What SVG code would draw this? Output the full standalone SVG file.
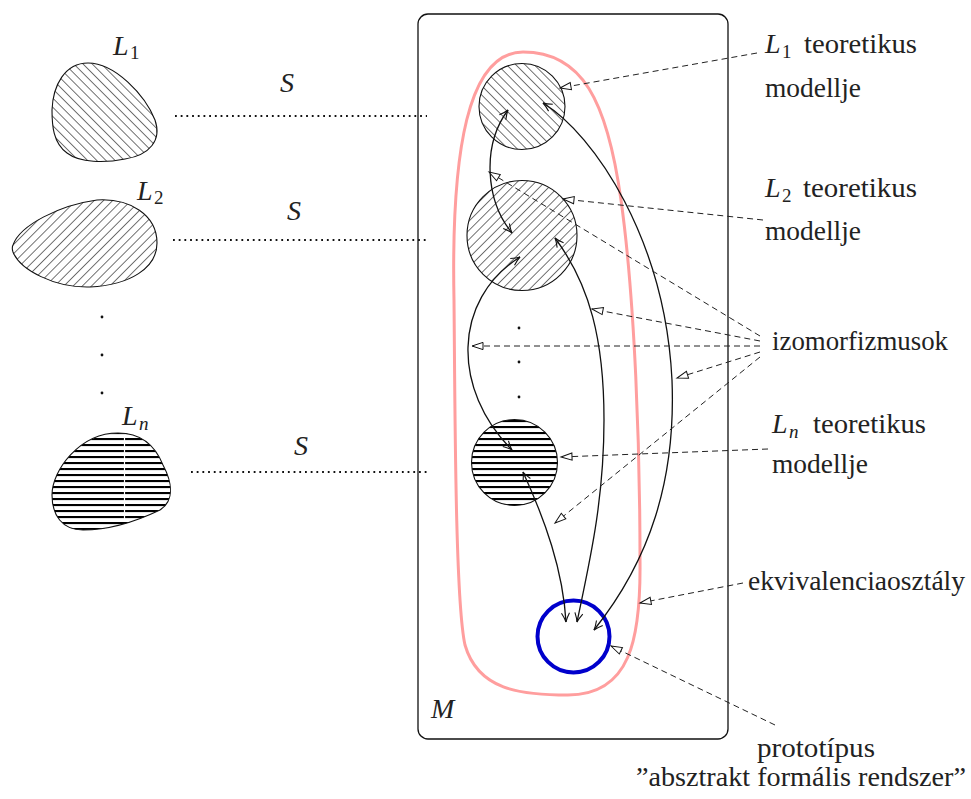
<svg xmlns="http://www.w3.org/2000/svg" width="971" height="799" viewBox="0 0 971 799">
<style>
.rm{font-family:"Times New Roman","Liberation Serif","DejaVu Serif",serif;font-size:27px;fill:#222}
.it{font-family:"Times New Roman","Liberation Serif","DejaVu Serif",serif;font-size:28px;font-style:italic;fill:#222}
.sub{font-family:"Times New Roman","Liberation Serif","DejaVu Serif",serif;font-size:19px;fill:#222}
.out{stroke:#111;stroke-width:1.1}
.dot{fill:none;stroke:#111;stroke-width:1.8;stroke-dasharray:1.8 3.9}
.sol{fill:none;stroke:#111;stroke-width:1.3}
.dash{fill:none;stroke:#222;stroke-width:1;stroke-dasharray:6 4}
</style>
<defs>
<pattern id="ne" patternUnits="userSpaceOnUse" width="6.5" height="10" patternTransform="rotate(45)"><line x1="0" y1="-1" x2="0" y2="11" stroke="#000" stroke-width="1.1"/></pattern>
<pattern id="nw" patternUnits="userSpaceOnUse" width="6.5" height="10" patternTransform="rotate(-45)"><line x1="0" y1="-1" x2="0" y2="11" stroke="#000" stroke-width="1.1"/></pattern>
<pattern id="hz" patternUnits="userSpaceOnUse" width="10" height="6"><rect x="0" y="0" width="10" height="2.1" fill="#000"/></pattern>
<marker id="ar" viewBox="-11 -6 13 12" refX="0" refY="0" markerWidth="13" markerHeight="12" markerUnits="userSpaceOnUse" orient="auto-start-reverse"><path d="M-9,-4 Q-3.5,-0.9 0,0 Q-3.5,0.9 -9,4" fill="none" stroke="#111" stroke-width="1.1"/></marker>
<marker id="tri" viewBox="-13 -6 15 12" refX="0" refY="0" markerWidth="15" markerHeight="12" markerUnits="userSpaceOnUse" orient="auto"><path d="M0,0 L-11,-3.6 L-11,3.6 Z" fill="#fff" stroke="#111" stroke-width="1" stroke-dasharray="none"/></marker>
</defs>
<rect width="971" height="799" fill="#fff"/>

<g id="blob-L1">
<path d="M88,63 C115,63 145,95 155,120 C162,140 150,155 125,159 C105,163 80,163 67,153 C53,143 52,125 52,110 C53,85 65,63 88,63 Z" fill="url(#nw)" class="out"/>
<text class="it" x="113" y="55">L</text><text class="sub" x="130" y="59">1</text>
</g>
<g id="blob-L2">
<path d="M13,245 C20,225 60,205 97,200 C130,198 157,215 157,243 C157,268 130,285 90,287 C55,288 20,270 13,252 C12,249 12,247 13,245 Z" fill="url(#ne)" class="out"/>
<text class="it" x="137" y="200">L</text><text class="sub" x="154" y="204">2</text>
</g>
<g id="dots-left">
<circle cx="102" cy="317" r="1.4" fill="#111"/><circle cx="102" cy="355" r="1.4" fill="#111"/><circle cx="102" cy="393" r="1.4" fill="#111"/>
</g>
<g id="blob-Ln">
<path d="M118,433 C140,433 155,445 163,465 C172,482 175,500 160,510 C135,522 110,530 83,530 C62,530 52,515 52,495 C52,470 80,433 118,433 Z" fill="url(#hz)" class="out"/>
<line x1="124.5" y1="436" x2="124.5" y2="520" stroke="#fff" stroke-width="1.2"/>
<text class="it" x="122" y="425">L</text><text class="sub" x="139" y="430" font-style="italic">n</text>
</g>

<g id="box-M">
<rect x="418" y="14" width="310" height="725" rx="10" ry="10" fill="none" stroke="#111" stroke-width="1.3"/>
<text class="it" x="431" y="718">M</text>
</g>

<g id="S-maps">
<line class="dot" x1="175" y1="116" x2="427" y2="116"/>
<text class="it" x="280" y="92">S</text>
<line class="dot" x1="173" y1="240" x2="427" y2="240"/>
<text class="it" x="287" y="220">S</text>
<line class="dot" x1="191" y1="472" x2="429" y2="472"/>
<text class="it" x="294" y="455">S</text>
</g>

<g id="equiv-class">
<path d="M454,300 C451,150 468,52 523,52 C582,52 607,100 621,200 C635,300 640,450 640,560 C641,640 630,695 568,695 C520,695 478,690 465,645 C455,600 455,400 454,300 Z" fill="none" stroke="#ff9e9e" stroke-width="3"/>
</g>

<g id="model-L1"><circle cx="522" cy="106.5" r="43" fill="url(#nw)" class="out"/></g>
<g id="model-L2"><circle cx="522" cy="235.5" r="55" fill="url(#ne)" class="out"/></g>
<g id="dots-M">
<circle cx="519" cy="328" r="1.4" fill="#111"/><circle cx="519" cy="362" r="1.4" fill="#111"/><circle cx="519" cy="397" r="1.4" fill="#111"/>
</g>
<g id="model-Ln"><circle cx="514.5" cy="462.5" r="43" fill="url(#hz)" class="out"/></g>
<g id="prototype"><circle cx="573.5" cy="636.5" r="36" fill="none" stroke="#0000cc" stroke-width="4"/></g>

<g id="connectors">
<path class="sol" d="M508,110 C482,145 485,200 512,233" marker-start="url(#ar)" marker-end="url(#ar)"/>
<path class="sol" d="M520,257 C452,300 452,390 512,450" marker-start="url(#ar)" marker-end="url(#ar)"/>
<path class="sol" d="M543,103 C595,135 665,240 672,380 C676,480 650,560 594,630" marker-start="url(#ar)" marker-end="url(#ar)"/>
<path class="sol" d="M555,238 C590,285 604,340 604,420 C604,500 590,560 577,622" marker-start="url(#ar)" marker-end="url(#ar)"/>
<path class="sol" d="M523,472 C545,520 563,570 566,622" marker-start="url(#ar)" marker-end="url(#ar)"/>

<path class="dash" d="M757,53 L560,88" marker-end="url(#tri)"/>
<path class="dash" d="M763,220 L563,199" marker-end="url(#tri)"/>
<path class="dash" d="M760,336 L489,172" marker-end="url(#tri)"/>
<path class="dash" d="M760,341 L592,309" marker-end="url(#tri)"/>
<path class="dash" d="M760,346 L472,346" marker-end="url(#tri)"/>
<path class="dash" d="M760,352 L677,378" marker-end="url(#tri)"/>
<path class="dash" d="M760,357 L555,523" marker-end="url(#tri)"/>
<path class="dash" d="M768,449 L561,457" marker-end="url(#tri)"/>
<path class="dash" d="M743,583 L640,603" marker-end="url(#tri)"/>
<path class="dash" d="M775,725 L611,646" marker-end="url(#tri)"/>
</g>

<g id="label-L1">
<text class="it" x="765" y="53">L</text><text class="sub" x="782" y="58">1</text>
<text class="rm" x="804" y="53" textLength="113" lengthAdjust="spacingAndGlyphs">teoretikus</text>
<text class="rm" x="765" y="97" textLength="96" lengthAdjust="spacingAndGlyphs">modellje</text>
</g>
<g id="label-L2">
<text class="it" x="765" y="197">L</text><text class="sub" x="782" y="202">2</text>
<text class="rm" x="803" y="197" textLength="114" lengthAdjust="spacingAndGlyphs">teoretikus</text>
<text class="rm" x="765" y="240" textLength="96" lengthAdjust="spacingAndGlyphs">modellje</text>
</g>
<g id="label-iso">
<text class="rm" x="772" y="350" textLength="176" lengthAdjust="spacingAndGlyphs">izomorfizmusok</text>
</g>
<g id="label-Ln">
<text class="it" x="772" y="433">L</text><text class="sub" x="789" y="438" font-style="italic">n</text>
<text class="rm" x="813" y="433" textLength="113" lengthAdjust="spacingAndGlyphs">teoretikus</text>
<text class="rm" x="772" y="473" textLength="96" lengthAdjust="spacingAndGlyphs">modellje</text>
</g>
<g id="label-ekv">
<text class="rm" x="748" y="590" textLength="217" lengthAdjust="spacingAndGlyphs">ekvivalenciaosztály</text>
</g>
<g id="label-proto">
<text class="rm" x="757" y="757" textLength="118" lengthAdjust="spacingAndGlyphs">prototípus</text>
<text class="rm" x="636" y="786" textLength="330" lengthAdjust="spacingAndGlyphs">”absztrakt formális rendszer”</text>
</g>
</svg>
